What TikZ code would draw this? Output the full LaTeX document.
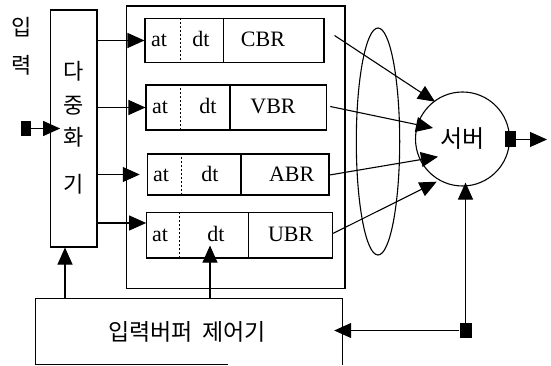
\documentclass[tikz,border=0pt]{standalone}
\usepackage{fontspec}
\setmainfont{Liberation Serif}
\newfontfamily\kr{Noto Sans CJK KR}
\usetikzlibrary{arrows.meta,calc}
\begin{document}
\begin{tikzpicture}[x=1pt,y=-1pt,
  box/.style={draw,line width=1.1pt,inner sep=0pt,rectangle},
  lbl/.style={font=\fontsize{22}{22}\selectfont,inner sep=0pt,anchor=base},
  kt/.style={font=\kr\fontsize{22}{22}\selectfont,inner sep=0pt},
  arr/.style={line width=1.1pt,-{Triangle[length=17pt,width=15pt]}},
  ln/.style={line width=1.1pt},
  dsh/.style={line width=0.9pt,dash pattern=on 2pt off 2pt},
  sq/.style={fill=black,inner sep=0pt,minimum width=10pt,minimum height=15pt}]
\useasboundingbox (0,0) rectangle (551,366);

% input label
\node[kt] (in1) at (22,27) {입};
\node[kt] (in2) at (22,65) {력};

% multiplexer
\node[box,minimum width=46.3pt,minimum height=237pt] (mux) at (73.85,128.5) {};
\node[kt] (m1) at (74,71) {다};
\node[kt] (m2) at (74,106) {중};
\node[kt] (m3) at (74,137.5) {화};
\node[kt] (m4) at (74,184) {기};

% container
\node[box,minimum width=218.5pt,minimum height=282.7pt] (cont) at (235.75,147.35) {};

% buffers
\node[box,minimum width=179pt,minimum height=44.4pt] (cbr) at (234.5,40.5) {};
\node[box,minimum width=180.7pt,minimum height=45pt] (vbr) at (236.35,107.5) {};
\node[box,minimum width=181.7pt,minimum height=41pt] (abr) at (238.15,174.5) {};
\node[box,minimum width=186pt,minimum height=45.3pt] (ubr) at (239.7,235.35) {};

\draw[dsh] (cbr.north -| 180,0) -- (cbr.south -| 180,0);
\draw[ln] (cbr.north -| 223.3,0) -- (cbr.south -| 223.3,0);
\draw[dsh] (vbr.north -| 180,0) -- (vbr.south -| 180,0);
\draw[ln] (vbr.north -| 230,0) -- (vbr.south -| 230,0);
\draw[dsh] (abr.north -| 181,0) -- (abr.south -| 181,0);
\draw[ln] (abr.north -| 241,0) -- (abr.south -| 241,0);
\draw[dsh] (ubr.north -| 179.3,0) -- (ubr.south -| 179.3,0);
\draw[ln] (ubr.north -| 248.3,0) -- (ubr.south -| 248.3,0);

\node[lbl] (cat) at (159,46.7) {at};
\node[lbl] (cdt) at (201,46.7) {dt};
\node[lbl] (cnm) at (263,46.7) {CBR};
\node[lbl] (vat) at (160,113.5) {at};
\node[lbl] (vdt) at (208,113.5) {dt};
\node[lbl] (vnm) at (273,113.5) {VBR};
\node[lbl] (aat) at (161,182) {at};
\node[lbl] (adt) at (210,182) {dt};
\node[lbl] (anm) at (291.7,182) {ABR};
\node[lbl] (uat) at (160,241.7) {at};
\node[lbl] (udt) at (216,241.7) {dt};
\node[lbl] (unm) at (290.7,241.7) {UBR};

% ellipse
\draw[line width=1.1pt] (378,141.5) ellipse [x radius=21.7, y radius=113.5];

% server
\node[draw,circle,line width=1.1pt,minimum size=94pt,inner sep=0pt,font=\kr\fontsize{24}{24}\selectfont] (srv) at (462.5,139) {서버};

% control box
\node[inner sep=0pt,minimum width=306pt,minimum height=66pt] (ctrl) at (189,331.5) {};
\draw[ln] (ctrl.south west) -- (ctrl.north west) -- (ctrl.north east) -- (ctrl.south east);
\draw[ln] (ctrl.south west) -- (ctrl.south -| 228,0);
\node[kt,font=\kr\fontsize{23}{23}\selectfont] (ctxt) at (187,332) {입력버퍼\hspace{4pt} 제어기};

% squares
\node[sq] (insq) at (26,128.5) {};
\node[sq,minimum width=11pt,minimum height=16pt] (osq) at (510.5,139.5) {};
\node[sq,minimum width=12pt] (bsq) at (465.5,330.5) {};
\coordinate (out) at (547,139.5);

% arrows
\draw[arr,shorten >=-10pt] (insq.east) -- (mux.west);
\draw[arr] (mux.east |- cbr.west) -- (cbr.west);
\draw[arr] (mux.east |- vbr.west) -- (vbr.west);
\draw[arr,shorten >=7pt] (mux.east |- abr.west) -- (abr.west);
\draw[arr] (mux.east |- 0,223) -- (ubr.west |- 0,223);

\draw[arr] ($(cbr.east)+(10,-5)$) -- ($(srv.center)+(-27.5,-37.3)$);
\draw[arr] ($(vbr.east)+(3,-1)$) -- ($(srv.center)+(-29.5,-11)$);
\draw[arr] ($(abr.east)+(0,0.5)$) -- ($(srv.center)+(-24.5,17.7)$);
\draw[arr] ($(ubr.east)+(0,-2)$) -- ($(srv.center)+(-25.8,42.7)$);

\draw[arr] (osq.east) -- (out);
\draw[arr,shorten >=-4pt] (bsq.north) -- (bsq.north |- srv.south);
\draw[arr,shorten >=-8pt] (bsq.west) -- (ctrl.east |- bsq.west);

\draw[arr] (ctrl.north -| 65,0) -- (mux.south -| 65,0);
\draw[arr,shorten >=-13pt] (ctrl.north -| 210,0) -- (ubr.south -| 210,0);
\end{tikzpicture}
\end{document}
